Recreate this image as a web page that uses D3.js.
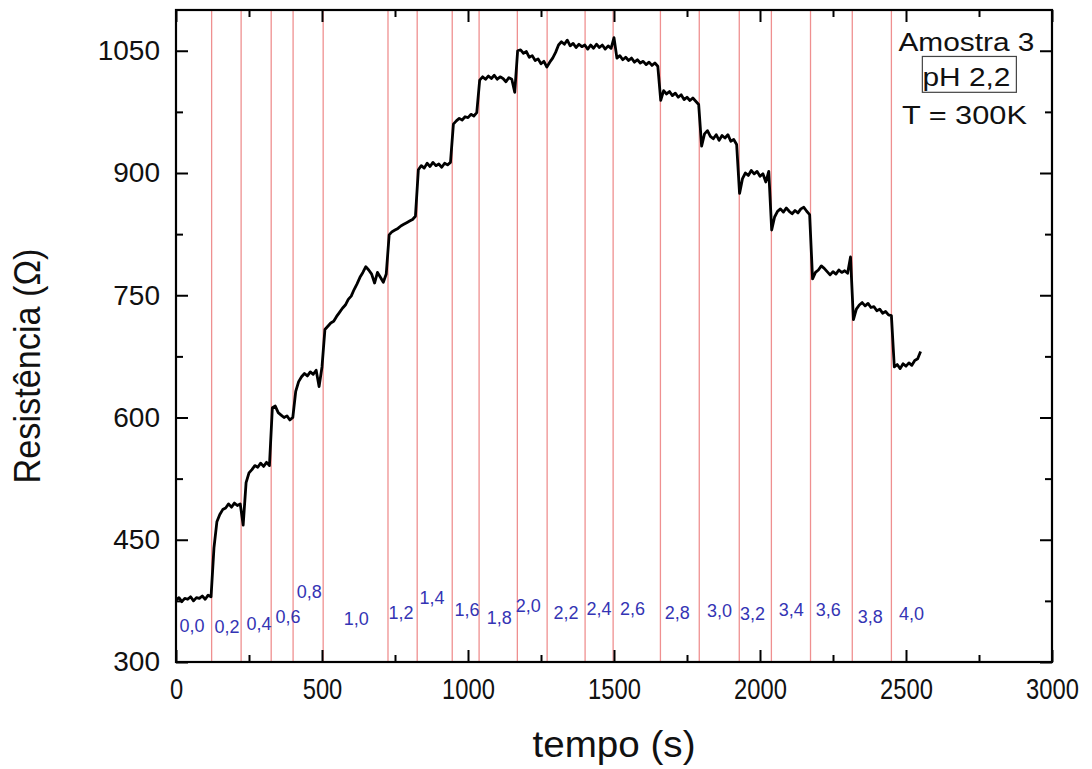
<!DOCTYPE html>
<html>
<head>
<meta charset="utf-8">
<script src="https://cdn.jsdelivr.net/npm/d3@7"></script>
<style>
  html, body { margin: 0; padding: 0; background: #fff; }
  svg { display: block; font-family: Arial, "Liberation Sans", sans-serif; }
</style>
</head>
<body>
<svg id="chart" width="1092" height="769"></svg>
<script>
// ---------------- DATA ----------------
const tempo = [
  0,10,20,30,40,50,60,70,80,90,
  100,110,120,130,140,150,160,170,180,190,
  200,210,220,230,240,250,260,270,280,290,
  300,310,320,330,340,350,360,370,380,390,
  400,410,420,430,440,450,460,470,480,490,
  500,510,520,530,540,550,560,570,580,590,
  600,610,620,630,640,650,660,670,680,690,
  700,710,720,730,740,750,760,770,780,790,
  800,810,820,830,840,850,860,870,880,890,
  900,910,920,930,940,950,960,970,980,990,
  1000,1010,1020,1030,1040,1050,1060,1070,1080,1090,
  1100,1110,1120,1130,1140,1150,1160,1170,1180,1190,
  1200,1210,1220,1230,1240,1250,1260,1270,1280,1290,
  1300,1310,1320,1330,1340,1350,1360,1370,1380,1390,
  1400,1410,1420,1430,1440,1450,1460,1470,1480,1490,
  1500,1510,1520,1530,1540,1550,1560,1570,1580,1590,
  1600,1610,1620,1630,1640,1650,1660,1670,1680,1690,
  1700,1710,1720,1730,1740,1750,1760,1770,1780,1790,
  1800,1810,1820,1830,1840,1850,1860,1870,1880,1890,
  1900,1910,1920,1930,1940,1950,1960,1970,1980,1990,
  2000,2010,2020,2030,2040,2050,2060,2070,2080,2090,
  2100,2110,2120,2130,2140,2150,2160,2170,2180,2190,
  2200,2210,2220,2230,2240,2250,2260,2270,2280,2290,
  2300,2310,2320,2330,2340,2350,2360,2370,2380,2390,
  2400,2410,2420,2430,2440,2450,2460,2470,2480,2490,
  2500,2510,2520,2530,2540,2550
];
const resistencia = [
  376,379,374,378,377,380,375,379,378,381,
  377,382,380,440,472,481,487,489,494,490,
  495,492,494,468,520,532,536,541,539,544,
  540,545,541,612,614,606,603,600,602,597,
  600,632,644,650,654,651,656,653,658,638,
  662,708,712,716,718,724,729,734,738,745,
  749,757,764,772,778,785,781,776,765,778,
  772,766,776,824,828,830,832,835,837,839,
  841,843,847,904,909,906,912,908,913,909,
  911,907,912,910,913,960,964,967,965,969,
  968,972,970,974,1014,1018,1015,1019,1016,1020,
  1015,1018,1016,1012,1017,1015,999,1050,1051,1047,
  1049,1042,1044,1038,1040,1034,1037,1030,1036,1041,
  1048,1057,1061,1058,1063,1056,1059,1054,1058,1055,
  1057,1052,1057,1053,1058,1054,1057,1052,1056,1053,
  1066,1041,1044,1039,1042,1038,1041,1036,1039,1035,
  1037,1033,1036,1032,1035,1031,989,1001,997,1000,
  995,998,993,996,990,993,989,992,988,984,
  933,948,952,945,942,947,940,946,943,947,
  939,941,935,875,893,900,897,903,899,902,
  896,899,889,902,830,846,853,856,852,857,
  853,850,854,851,856,858,853,849,770,778,
  781,786,783,779,775,779,776,781,778,780,
  777,797,720,733,738,741,737,740,735,736,
  731,733,728,730,726,725,662,665,660,666,
  663,667,664,670,672,681
];
// instants of the pH changes (red vertical lines)
const trocas = [122,223,326,401,504,726,826,946,1038,1169,1271,1401,1497,1659,1792,1929,2039,2173,2316,2450];
// pH labels and their anchor (time, resistance)
const rotulos = ["0,0","0,2","0,4","0,6","0,8","1,0","1,2","1,4","1,6","1,8","2,0","2,2","2,4","2,6","2,8","3,0","3,2","3,4","3,6","3,8","4,0"];
const rotuloT = [55,175,284,384,456,617,771,877,997,1107,1206,1336,1449,1563,1717,1861,1974,2107,2234,2378,2519];
const rotuloR = [344,343,347,355,386,353,361,379,364,354,369,361,365,366,361,363,359,364,364,356,359];
const xTicks = [0,500,1000,1500,2000,2500,3000];
const xMinor = [250,750,1250,1750,2250,2750];
const yTicks = [300,450,600,750,900,1050];
const yMinor = [375,525,675,825,975];
const notas = ["Amostra 3","pH 2,2","T = 300K"];

// ---------------- LAYOUT ----------------
const svg = d3.select("#chart");
const W = 1092, H = 769;
const m = {left:176, right:40, top:10, bottom:107};
const iw = W - m.left - m.right, ih = H - m.top - m.bottom;
const x = d3.scaleLinear().domain([0,3000]).range([0, iw]);
const y = d3.scaleLinear().domain([300,1100]).range([ih, 0]);
const g = svg.append("g").attr("transform", `translate(${m.left},${m.top})`);

// red vertical lines
g.selectAll("line.troca").data(trocas).enter().append("line")
  .attr("class","troca")
  .attr("x1", d=>x(d)).attr("x2", d=>x(d))
  .attr("y1", 0).attr("y2", ih)
  .attr("stroke", "#ef9090").attr("stroke-width", 1.3);

// data line
const pts = tempo.map((t,i)=>[t, resistencia[i]]);
g.append("path").datum(pts)
  .attr("fill","none").attr("stroke","#000").attr("stroke-width",2.8)
  .attr("stroke-linejoin","round")
  .attr("d", d3.line().x(d=>x(d[0])).y(d=>y(d[1])));

// pH labels
g.selectAll("text.ph").data(rotulos).enter().append("text")
  .attr("class","ph")
  .attr("x", (d,i)=>x(rotuloT[i])).attr("y", (d,i)=>y(rotuloR[i]))
  .attr("dy","0.35em").attr("text-anchor","middle")
  .attr("font-size", 18).attr("fill", "#3434b4")
  .text(d=>d);

// axes
function styleAxis(sel){
  sel.select(".domain").remove();
  sel.selectAll(".tick line").attr("stroke","#000").attr("stroke-width",2);
}
const fmt = d3.format("d");
const gx = g.append("g").attr("transform",`translate(0,${ih})`)
  .call(d3.axisBottom(x).tickValues(xTicks).tickSizeInner(-12).tickSizeOuter(0).tickPadding(16).tickFormat(fmt));
styleAxis(gx);
gx.selectAll(".tick text").attr("font-size", 29).attr("fill","#111")
  .attr("font-family","Arial, 'Liberation Sans', sans-serif")
  .attr("textLength", d=> String(d).length*13.2)
  .attr("lengthAdjust","spacingAndGlyphs");
const gxm = g.append("g").attr("transform",`translate(0,${ih})`)
  .call(d3.axisBottom(x).tickValues(xMinor).tickSizeInner(-7).tickSizeOuter(0).tickFormat(""));
styleAxis(gxm);
const gxt = g.append("g")
  .call(d3.axisTop(x).tickValues(xTicks).tickSizeInner(-12).tickSizeOuter(0).tickFormat(""));
styleAxis(gxt);
const gxtm = g.append("g")
  .call(d3.axisTop(x).tickValues(xMinor).tickSizeInner(-7).tickSizeOuter(0).tickFormat(""));
styleAxis(gxtm);

const gy = g.append("g")
  .call(d3.axisLeft(y).tickValues(yTicks).tickSizeInner(-12).tickSizeOuter(0).tickPadding(16).tickFormat(fmt));
styleAxis(gy);
gy.selectAll(".tick text").attr("font-size", 28).attr("fill","#111")
  .attr("font-family","Arial, 'Liberation Sans', sans-serif");
const gym = g.append("g")
  .call(d3.axisLeft(y).tickValues(yMinor).tickSizeInner(-7).tickSizeOuter(0).tickFormat(""));
styleAxis(gym);
const gyr = g.append("g").attr("transform",`translate(${iw},0)`)
  .call(d3.axisRight(y).tickValues(yTicks).tickSizeInner(-12).tickSizeOuter(0).tickFormat(""));
styleAxis(gyr);
const gyrm = g.append("g").attr("transform",`translate(${iw},0)`)
  .call(d3.axisRight(y).tickValues(yMinor).tickSizeInner(-7).tickSizeOuter(0).tickFormat(""));
styleAxis(gyrm);

// frame
g.append("rect").attr("x",0).attr("y",0).attr("width",iw).attr("height",ih)
  .attr("fill","none").attr("stroke","#000").attr("stroke-width",2.2);

// annotations (top right)
const nx = x(2707);
g.append("text").attr("x", nx).attr("y", y(1050))
  .attr("text-anchor","middle").attr("font-size",26).attr("fill","#111")
  .attr("textLength",136).attr("lengthAdjust","spacingAndGlyphs")
  .text(notas[0]);
g.append("rect").attr("x", x(2556)).attr("y", y(1043))
  .attr("width", x(2878)-x(2556)).attr("height", y(999)-y(1043))
  .attr("fill","none").attr("stroke","#444").attr("stroke-width",1.2);
g.append("text").attr("x", nx).attr("y", y(1007))
  .attr("text-anchor","middle").attr("font-size",26).attr("fill","#111")
  .attr("textLength",88).attr("lengthAdjust","spacingAndGlyphs")
  .text(notas[1]);
g.append("text").attr("x", x(2700)).attr("y", y(960))
  .attr("text-anchor","middle").attr("font-size",26).attr("fill","#111")
  .attr("textLength",125).attr("lengthAdjust","spacingAndGlyphs")
  .text(notas[2]);

// axis titles
svg.append("text").attr("x", m.left + x(1500)).attr("y", 757)
  .attr("text-anchor","middle").attr("font-size",36).attr("fill","#111")
  .attr("textLength",163).attr("lengthAdjust","spacingAndGlyphs")
  .text("tempo (s)");
svg.append("text").attr("transform","translate(40,366) rotate(-90)")
  .attr("text-anchor","middle").attr("font-size",36).attr("fill","#111")
  .attr("textLength",235).attr("lengthAdjust","spacingAndGlyphs")
  .text("Resistência (Ω)");
</script>
</body>
</html>
